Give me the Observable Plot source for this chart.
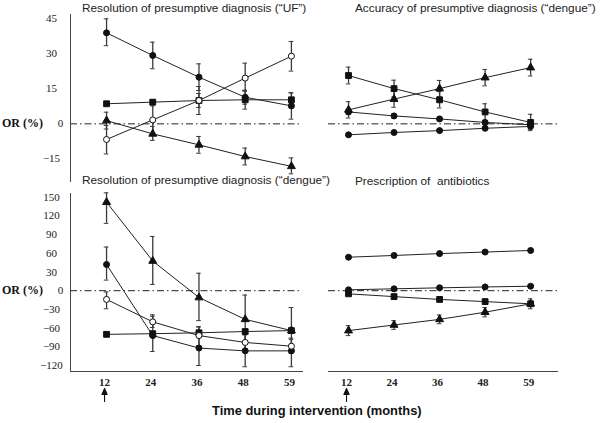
<!DOCTYPE html>
<html>
<head>
<meta charset="utf-8">
<script src="https://cdn.jsdelivr.net/npm/d3@7"></script>
<script src="https://cdn.jsdelivr.net/npm/@observablehq/plot@0.6"></script>
<style>
  html, body { margin: 0; padding: 0; background: #fff; }
  #wrap { position: relative; width: 600px; height: 423px; overflow: hidden; background: #fff; }
  #wrap .panel { position: absolute; }
  .title { position: absolute; font-family: "Liberation Sans", Arial, sans-serif; font-size: 11.8px; color: #222; white-space: pre; line-height: 1; }
  .ylab { position: absolute; font-family: "Liberation Serif", "Times New Roman", serif; font-weight: bold; font-size: 12px; color: #111; white-space: pre; line-height: 1; }
  .xlab { position: absolute; font-family: "Liberation Sans", Arial, sans-serif; font-weight: bold; font-size: 12.9px; color: #111; white-space: pre; line-height: 1; }
</style>
</head>
<body>
<div id="wrap"></div>
<script>
// ---------- data ----------
const months = ["12", "24", "36", "48", "59"];
const ticksTop = [45, 30, 15, -15];
const ticksBottom = [150, 120, 90, 60, 30, -30, -60, -90, -120];

const titleUF = "Resolution of presumptive diagnosis (“UF”)";
const titleAcc = "Accuracy of presumptive diagnosis (“dengue”)";
const titleRes = "Resolution of presumptive diagnosis (“dengue”)";
const titleAbx = "Prescription of  antibiotics";
const yLabel = "OR (%)";
const xLabel = "Time during intervention (months)";

// Panel 1: Resolution of presumptive diagnosis ("UF")
const ufCircle   = [39, 29.3, 20, 11.4, 7.7];
const ufCircleLo = [33.5, 23.6, 14.3, 8.4, 2];
const ufCircleHi = [45, 35, 25.7, 14.4, 13.3];
const ufOpen     = [-6.7, 1.7, 10, 19.6, 29];
const ufOpenLo   = [-12.9, -4.3, 4, 14, 22.6];
const ufOpenHi   = [-0.7, 7.7, 16, 26, 35.3];
const ufSquare   = [8.6, 9.3, 10, 10.3, 10.3];
const ufSquareLo = [8.0, 8.5, 7, 6.3, 7.3];
const ufSquareHi = [9.2, 10.1, 13, 14.3, 13.3];
const ufTri      = [1.4, -4.3, -9, -14, -18.2];
const ufTriLo    = [-2.2, -7.1, -12.6, -17.6, -21.4];
const ufTriHi    = [5, -1.1, -5.4, -10.4, -14.6];

// Panel 2: Accuracy of presumptive diagnosis ("dengue")
const accSquare   = [20.7, 15.1, 10.3, 5.1, 0.6];
const accSquareLo = [17.1, 11.5, 6.8, 1.6, -2.9];
const accSquareHi = [24.3, 18.7, 13.8, 8.6, 4.1];
const accTri      = [6, 10.6, 15.1, 19.8, 24.1];
const accTriLo    = [2.5, 7.1, 11.6, 16.3, 20.5];
const accTriHi    = [9.5, 14.1, 18.6, 23.3, 27.7];
const accCircle   = [5.1, 3.4, 2.1, 0.6, -0.4];
const accCircleLo = [4.1, 2.5, 1.3, -0.2, -1.6];
const accCircleHi = [6.1, 4.3, 2.9, 1.4, 0.8];
const accLow      = [-4.7, -3.7, -2.9, -1.9, -1.1];
const accLowLo    = [-5.2, -4.2, -3.4, -2.4, -2.3];
const accLowHi    = [-4.2, -3.2, -2.4, -1.4, 0.1];

// Panel 3: Resolution of presumptive diagnosis ("dengue")
const resTri      = [142, 47.6, -11, -46, -64];
const resTriLo    = [108, 10, -48, -82, -100];
const resTriHi    = [157, 87, 28, -7, -27];
const resCircle   = [42, -72, -92, -96.5, -96.5];
const resCircleLo = [17, -97.5, -120, -122, -122];
const resCircleHi = [70, -38.7, -58, -64, -76];
const resOpen     = [-14, -50, -72, -83, -89];
const resOpenLo   = [-29, -59, -88, -95, -100];
const resOpenHi   = [-2, -41, -58, -71, -78];
const resSquare   = [-70, -69, -67.5, -65.5, -64];
const resSquareLo = [-72, -72, -71, -69, -68];
const resSquareHi = [-68, -66, -64, -62, -60];

// Panel 4: Prescription of antibiotics
const abxTop    = [53.7, 56.5, 59.5, 62, 64.5];
const abxZero   = [1.4, 3, 4.6, 6, 7.2];
const abxSquare = [-5, -9.5, -14, -17.5, -21];
const abxTri    = [-64, -55, -46, -34.5, -21];
const abxTriLo  = [-72, -62, -53, -42, -29];
const abxTriHi  = [-56, -48, -39, -27, -13];

// ---------- helpers ----------
const SYM_R = {circle: 2.2, square: 2.6, triangle: 2.1};

function series(name, vals, lo, hi, symbol, fill) {
  return vals.map((v, i) => ({
    s: name, i, v,
    lo: lo ? lo[i] : null, hi: hi ? hi[i] : null,
    symbol, fill, r: SYM_R[symbol]
  }));
}

const arrowShape = {
  draw(context, l) {
    context.moveTo(0, 0);
    context.lineTo(0, -l);
    context.moveTo(-2.6, -l + 6);
    context.lineTo(0, -l);
    context.lineTo(2.6, -l + 6);
    context.closePath();
  }
};

function panel(cfg) {
  const rows = cfg.series.flat();
  const errs = rows.filter(d => d.lo != null);
  const cap = cfg.cap;
  const marks = [
    Plot.ruleY([0], {stroke: "#222", strokeWidth: 1, strokeDasharray: "7,3,1.5,3"}),
    Plot.ruleX(errs, {x: "i", y1: "lo", y2: "hi", stroke: "#3a3a3a", strokeWidth: 1.3}),
    Plot.ruleY(errs, {y: "lo", x1: d => d.i - cap, x2: d => d.i + cap, stroke: "#3a3a3a", strokeWidth: 1}),
    Plot.ruleY(errs, {y: "hi", x1: d => d.i - cap, x2: d => d.i + cap, stroke: "#3a3a3a", strokeWidth: 1}),
    Plot.line(rows, {x: "i", y: "v", z: "s", stroke: "#222", strokeWidth: 1}),
    Plot.dot(rows, {x: "i", y: "v", symbol: "symbol", fill: "fill", stroke: "#111", strokeWidth: 1, r: "r"})
  ];
  if (cfg.frameLeft) marks.push(Plot.frame({anchor: "left", stroke: "#444"}));
  if (cfg.frameBottom) marks.push(Plot.frame({anchor: "bottom", stroke: "#444"}));
  if (cfg.yTicks) {
    marks.push(Plot.axisY(cfg.yTicks, {anchor: "left", tickSize: 0, tickPadding: 19, textAnchor: "middle",
      fontFamily: "Liberation Serif, serif", fontSize: 11, fill: "#222", label: null}));
    marks.push(Plot.axisY([0], {anchor: "left", tickSize: 0, tickPadding: 10, textAnchor: "middle",
      fontFamily: "Liberation Serif, serif", fontSize: 11, fill: "#222", label: null}));
  }
  if (cfg.xAxis) {
    marks.push(Plot.axisX([0, 1, 2, 3, 4], {anchor: "bottom", tickSize: 0, tickPadding: 7, dx: -2,
      tickFormat: i => months[i], fontFamily: "Liberation Serif, serif", fontWeight: "bold",
      fontSize: 11, fill: "#222", label: null}));
    marks.push(Plot.vector([0], {x: d => d, frameAnchor: "bottom", dy: 30, dx: -2, length: 13,
      rotate: 0, anchor: "start", shape: arrowShape, stroke: "#111", fill: "#111", strokeWidth: 1.1}));
  }
  return Plot.plot({
    width: cfg.width, height: cfg.height,
    marginLeft: cfg.ml, marginRight: cfg.mr, marginTop: cfg.mt, marginBottom: cfg.mb,
    x: {type: "linear", domain: cfg.xDomain, axis: null},
    y: {type: "linear", domain: cfg.yDomain, axis: null},
    symbol: {type: "identity"},
    style: {background: "transparent", overflow: "visible"},
    marks
  });
}

function place(el, left, top) {
  el.classList.add("panel");
  el.style.left = left + "px";
  el.style.top = top + "px";
  document.getElementById("wrap").appendChild(el);
}
function label(cls, text, left, top) {
  const d = document.createElement("div");
  d.className = cls; d.textContent = text;
  d.style.left = left + "px"; d.style.top = top + "px";
  document.getElementById("wrap").appendChild(d);
  return d;
}

const topY = [-24.7, 46.85];
const botY = [-129.6, 155.9];

// Top-left
place(panel({
  width: 302, height: 185, ml: 70, mr: 0, mt: 14, mb: 4,
  xDomain: [-0.78, 4.24], yDomain: topY, cap: 0.05,
  frameLeft: true, yTicks: ticksTop,
  series: [
    series("circle", ufCircle, ufCircleLo, ufCircleHi, "circle", "#111"),
    series("open", ufOpen, ufOpenLo, ufOpenHi, "circle", "#fff"),
    series("square", ufSquare, ufSquareLo, ufSquareHi, "square", "#111"),
    series("tri", ufTri, ufTriLo, ufTriHi, "triangle", "#111")
  ]
}), 0, 0);

// Top-right
place(panel({
  width: 300, height: 185, ml: 28, mr: 43, mt: 14, mb: 4,
  xDomain: [-0.44, 4.59], yDomain: topY, cap: 0.05,
  series: [
    series("square", accSquare, accSquareLo, accSquareHi, "square", "#111"),
    series("tri", accTri, accTriLo, accTriHi, "triangle", "#111"),
    series("circle", accCircle, accCircleLo, accCircleHi, "circle", "#111"),
    series("low", accLow, accLowLo, accLowHi, "circle", "#111")
  ]
}), 300, 0);

// Bottom-left
place(panel({
  width: 302, height: 235, ml: 70, mr: 0, mt: 5, mb: 52,
  xDomain: [-0.78, 4.24], yDomain: botY, cap: 0.05,
  frameLeft: true, frameBottom: true, yTicks: ticksBottom, xAxis: true,
  series: [
    series("tri", resTri, resTriLo, resTriHi, "triangle", "#111"),
    series("circle", resCircle, resCircleLo, resCircleHi, "circle", "#111"),
    series("open", resOpen, resOpenLo, resOpenHi, "circle", "#fff"),
    series("square", resSquare, resSquareLo, resSquareHi, "square", "#111")
  ]
}), 0, 188);

// Bottom-right
place(panel({
  width: 300, height: 235, ml: 28, mr: 43, mt: 5, mb: 52,
  xDomain: [-0.44, 4.59], yDomain: botY, cap: 0.05,
  frameBottom: true, xAxis: true,
  series: [
    series("top", abxTop, null, null, "circle", "#111"),
    series("zero", abxZero, null, null, "circle", "#111"),
    series("square", abxSquare, null, null, "square", "#111"),
    series("tri", abxTri, abxTriLo, abxTriHi, "triangle", "#111")
  ]
}), 300, 188);

// Text
label("title", titleUF, 82, 3);
label("title", titleAcc, 355, 3);
label("title", titleRes, 82, 175);
label("title", titleAbx, 355, 176);
label("ylab", yLabel, 2, 117);
label("ylab", yLabel, 2, 284);
label("xlab", xLabel, 212, 405);
</script>
</body>
</html>
